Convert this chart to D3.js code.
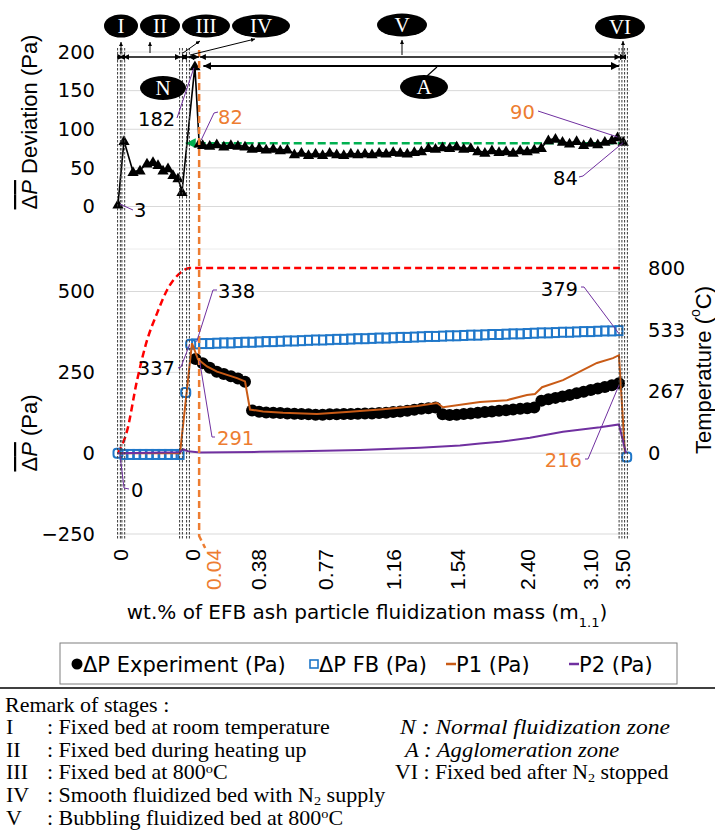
<!DOCTYPE html>
<html>
<head>
<meta charset="utf-8">
<script src="https://cdn.jsdelivr.net/npm/d3@7"></script>
<style>
  body { margin: 0; background: #fff; }
  svg { display: block; }
</style>
</head>
<body>
<div id="chart"></div>
<script>
// ===== Axes / categories =====
const xTickPos = [0.28, 10.49, 13.46, 19.84, 29.34, 38.97, 48.04, 57.96, 66.89, 71.43];
const xTickLabels = ["0", "0", "0.04", "0.38", "0.77", "1.16", "1.54", "2.40", "3.10", "3.50"];
const devTicks = [0, 50, 100, 150, 200];
const pTicks = [-250, 0, 250, 500];
const tempTicks = [0, 267, 533, 800];

// stage boundaries (sample positions) and N2 start
const stageBounds = [0.14, 0.75, 8.93, 9.92, 71.22, 72.0];
const n2Start = 11.5;

// ===== Top panel : ΔP deviation =====
const devEarlyPos = [0, 0.85, 2.13, 3.12, 4.11, 4.96, 5.67, 6.38, 7.09, 7.79, 8.5, 9.07, 10.9, 11.5];
const devEarlyVal = [3, 85, 45, 47, 56, 58, 54, 47, 50, 41, 37, 19, 182, 82];
const devMainStart = 12;
const devMainVal = [
  80, 79, 81, 78, 80, 79, 78,
  75, 76, 74, 75, 73, 74,
  68, 70, 67, 69, 67, 70, 68, 67, 69, 68,
  69, 68, 70, 69, 71, 70, 69, 71, 72,
  76, 75, 77, 76, 78, 75, 76,
  72, 70, 73, 71, 72, 70, 73, 72, 74, 76,
  86, 88, 84, 82, 85, 80, 83,
  81, 84, 86
];
const devEndPos = [70.8, 71.6];
const devEndVal = [90, 84];
const devMean = 82;

// ===== Bottom panel : ΔP =====
const expStart = 11;
const expVal = [
  291, 278, 264, 252, 245, 238, 231, 221,
  132, 128, 126, 125, 124, 123, 122, 121, 120, 119, 119, 120, 120, 121, 121, 122,
  123, 123, 124, 125, 127, 129, 131, 134, 137, 139, 141,
  120, 118, 119, 121, 123, 125, 127, 129, 131, 133, 135, 137, 139, 141,
  162, 167, 171, 175, 180, 185, 190, 195, 200, 205, 210, 216
];

const fbEarlyPos = [0, 0.85, 1.75, 2.65, 3.55, 4.45, 5.35, 6.25, 7.15, 8.05, 8.8, 9.6, 10.3];
const fbEarlyVal = [0, -4, -4, -4, -4, -4, -4, -4, -4, -4, -4, 188, 337];
const fbMainStart = 11;
const fbMainVal = [
  338, 339, 339, 340, 341, 341, 342, 343, 343, 344,
  345, 345, 346, 347, 347, 348, 349, 350, 350, 351,
  352, 352, 353, 354, 354, 355, 356, 356, 357, 358,
  358, 359, 360, 361, 361, 362, 363, 363, 364, 365,
  365, 366, 367, 367, 368, 369, 369, 370, 371, 372,
  372, 373, 374, 374, 375, 376, 376, 377, 378, 378,
  379
];
const fbEndPos = [72.1];
const fbEndVal = [-12];

const p1Pos = [0, 8.79, 10.49, 11.34, 12.61, 14.03, 15.45, 16.87, 18.0, 18.71, 20.55, 23.38, 28.2, 32.88,
  37.56, 42.38, 45.21, 46.06, 51.3, 55.13, 57.96, 59.1, 60.1, 63.07, 67.88, 70.15, 71.0, 71.85];
const p1Val = [0, 0, 340, 290, 268, 252, 242, 232, 222, 135, 129, 125, 121, 128,
  136, 146, 155, 142, 158, 164, 180, 183, 204, 226, 279, 294, 303, 0];

const p2Pos = [0, 8.79, 9.21, 9.92, 11.62, 20.12, 25.79, 34.3, 42.8, 48.47, 51.3, 54.14, 58.39, 63.07, 68.31, 71.0, 72.0];
const p2Val = [0, 3, 12, 6, 2, 4, 6, 10, 17, 24, 30, 35, 48, 66, 80, 89, 0];

const tempPos = [0, 1.28, 2.69, 4.11, 5.53, 6.94, 8.79, 10.2, 71.14];
const tempVal = [0, 96, 313, 487, 604, 704, 778, 800, 800];

// ===== Colours =====
const C = {
  grid: "#d9d9d9",
  blue: "#1f77c9",
  p1: "#c95b16",
  orange: "#ed7d31",
  purple: "#7030a0",
  red: "#ff0000",
  green: "#00b050",
  bound: "#3a3a3a"
};

// ===== SVG =====
const W = 715, H = 839;
const svg = d3.select("#chart").append("svg")
  .attr("width", W).attr("height", H)
  .style("background", "#fff");

const x = d3.scaleLinear().domain([0, 72]).range([118, 626]);
const yDev = d3.scaleLinear().domain([-55, 200]).range([249, 52]);
const yP = d3.scaleLinear().domain([-250, 500]).range([534, 291.5]);
const yT = d3.scaleLinear().domain([0, 800]).range([yP(0), 268]);
const xL = 117, xR = 630;

const sans = "DejaVu Sans";
const sansR = "Liberation Sans";
const serif = "Liberation Serif";

// markers
const defs = svg.append("defs");
function addMarker(id, color) {
  defs.append("marker")
    .attr("id", id)
    .attr("viewBox", "0 0 10 10")
    .attr("refX", 10).attr("refY", 5)
    .attr("markerWidth", 4).attr("markerHeight", 4)
    .attr("orient", "auto-start-reverse")
    .append("path").attr("d", "M0,0L10,5L0,10z").attr("fill", color);
}
addMarker("ah", "#000");
addMarker("ahg", C.green);

// ===== Gridlines =====
const grid = svg.append("g").attr("stroke", C.grid).attr("stroke-width", 1);
devTicks.forEach((v) => grid.append("line").attr("x1", xL).attr("x2", xR).attr("y1", yDev(v)).attr("y2", yDev(v)));
grid.append("line").attr("x1", xL).attr("x2", xR).attr("y1", yDev(-55)).attr("y2", yDev(-55)).attr("stroke", "#ececec");
pTicks.forEach((v) => grid.append("line").attr("x1", xL).attr("x2", xR).attr("y1", yP(v)).attr("y2", yP(v)));

// ===== Axes =====
const styleTicks = (g, fam, size) => {
  g.select(".domain").remove();
  g.selectAll("text").attr("font-family", fam).attr("font-size", size).attr("fill", "#000");
};
svg.append("g").attr("transform", `translate(${xL},0)`)
  .call(d3.axisLeft(yDev).tickValues(devTicks).tickSize(0).tickPadding(22))
  .call((g) => styleTicks(g, sans, 19.5));
svg.append("g").attr("transform", `translate(${xL},0)`)
  .call(d3.axisLeft(yP).tickValues(pTicks).tickSize(0).tickPadding(22))
  .call((g) => styleTicks(g, sans, 19.5));
svg.append("g").attr("transform", `translate(${xR},0)`)
  .call(d3.axisRight(yT).tickValues(tempTicks).tickSize(0).tickPadding(18))
  .call((g) => styleTicks(g, sans, 19.5));

const xAxis = svg.append("g").attr("transform", `translate(0,${yP(-250)})`)
  .call(d3.axisBottom(x).tickValues(xTickPos).tickFormat((d, i) => xTickLabels[i]).tickSize(0))
  .call((g) => styleTicks(g, sansR, 21));
xAxis.selectAll("text")
  .attr("transform", "rotate(-90)")
  .attr("x", -15).attr("y", 0).attr("dy", "0.36em")
  .style("text-anchor", "end")
  .attr("fill", (d, i) => (xTickLabels[i] === "0.04" ? C.orange : "#000"));

// ===== Axis titles =====
const tTop = svg.append("text")
  .attr("transform", "translate(29,122) rotate(-90)")
  .attr("text-anchor", "middle").attr("dominant-baseline", "central")
  .attr("font-family", sansR).attr("font-size", 22);
const ovTop = tTop.append("tspan").style("text-decoration", "overline");
ovTop.append("tspan").text("Δ");
ovTop.append("tspan").attr("font-style", "italic").text("P");
tTop.append("tspan").text(" Deviation (Pa)");

const tBot = svg.append("text")
  .attr("transform", "translate(29,433) rotate(-90)")
  .attr("text-anchor", "middle").attr("dominant-baseline", "central")
  .attr("font-family", sansR).attr("font-size", 22);
const ovBot = tBot.append("tspan").style("text-decoration", "overline");
ovBot.append("tspan").text("Δ");
ovBot.append("tspan").attr("font-style", "italic").text("P");
tBot.append("tspan").text(" (Pa)");

const tTemp = svg.append("text")
  .attr("transform", "translate(703,370) rotate(-90)")
  .attr("text-anchor", "middle").attr("dominant-baseline", "central")
  .attr("font-family", sansR).attr("font-size", 22);
tTemp.append("tspan").text("Temperature (");
tTemp.append("tspan").attr("font-size", 14).attr("baseline-shift", "super").text("o");
tTemp.append("tspan").text("C)");

const tX = svg.append("text")
  .attr("x", 367).attr("y", 619)
  .attr("text-anchor", "middle")
  .attr("font-family", sans).attr("font-size", 20);
tX.append("tspan").text("wt.% of EFB ash particle fluidization mass (m");
tX.append("tspan").attr("font-size", 13).attr("baseline-shift", "sub").text("1.1");
tX.append("tspan").text(")");

// ===== Temperature (red dashed) =====
const tempData = tempPos.map((p, i) => ({ p, v: tempVal[i] }));
svg.append("path")
  .datum(tempData)
  .attr("fill", "none").attr("stroke", C.red).attr("stroke-width", 2.5)
  .attr("stroke-dasharray", "7,4")
  .attr("d", d3.line().x((d) => x(d.p)).y((d) => yT(d.v)).curve(d3.curveMonotoneX));

// ===== ΔP experiment (black circles) =====
const expData = expVal.map((v, i) => ({ p: expStart + i, v }));
svg.append("g").selectAll("circle")
  .data(expData).enter().append("circle")
  .attr("cx", (d) => x(d.p)).attr("cy", (d) => yP(d.v))
  .attr("r", 6).attr("fill", "#000");

// ===== ΔP FB (blue squares) =====
const fbData = fbEarlyPos.map((p, i) => ({ p, v: fbEarlyVal[i], round: i === 0 || i >= fbEarlyPos.length - 2 }))
  .concat(fbMainVal.map((v, i) => ({ p: fbMainStart + i, v, round: false })))
  .concat(fbEndPos.map((p, i) => ({ p, v: fbEndVal[i], round: true })));
svg.append("g").selectAll("rect")
  .data(fbData).enter().append("rect")
  .attr("x", (d) => x(d.p) - (d.round ? 4.5 : 3.5))
  .attr("y", (d) => yP(d.v) - 4.5)
  .attr("width", (d) => (d.round ? 9 : 7))
  .attr("height", 9)
  .attr("rx", (d) => (d.round ? 3 : 0))
  .attr("fill", "#fff").attr("fill-opacity", 0)
  .attr("stroke", C.blue).attr("stroke-width", 2);

// ===== P1 / P2 lines =====
const lineP = d3.line().x((d) => x(d.p)).y((d) => yP(d.v));
svg.append("path")
  .datum(p1Pos.map((p, i) => ({ p, v: p1Val[i] })))
  .attr("fill", "none").attr("stroke", C.p1).attr("stroke-width", 2).attr("d", lineP);
svg.append("path")
  .datum(p2Pos.map((p, i) => ({ p, v: p2Val[i] })))
  .attr("fill", "none").attr("stroke", C.purple).attr("stroke-width", 2).attr("d", lineP);

// ===== Top panel series =====
const devData = devEarlyPos.map((p, i) => ({ p, v: devEarlyVal[i] }))
  .concat(devMainVal.map((v, i) => ({ p: devMainStart + i, v })))
  .concat(devEndPos.map((p, i) => ({ p, v: devEndVal[i] })));

svg.append("line")
  .attr("x1", x(9.6)).attr("x2", x(72.3))
  .attr("y1", yDev(devMean)).attr("y2", yDev(devMean))
  .attr("stroke", C.green).attr("stroke-width", 2.5)
  .attr("stroke-dasharray", "8,4")
  .attr("marker-start", "url(#ahg)");

svg.append("path")
  .datum(devData)
  .attr("fill", "none").attr("stroke", "#000").attr("stroke-width", 1.6)
  .attr("d", d3.line().x((d) => x(d.p)).y((d) => yDev(d.v)));
svg.append("g").selectAll("path")
  .data(devData).enter().append("path")
  .attr("transform", (d) => `translate(${x(d.p)},${yDev(d.v) + 1})`)
  .attr("d", d3.symbol(d3.symbolTriangle, 55))
  .attr("fill", "#000");

// ===== Stage boundaries =====
const bnd = svg.append("g").attr("stroke", C.bound).attr("stroke-width", 1).attr("stroke-dasharray", "2.5,1.5");
stageBounds.forEach((b) => {
  [-1.4, 1.4].forEach((o) => {
    bnd.append("line").attr("x1", x(b) + o).attr("x2", x(b) + o).attr("y1", 48).attr("y2", 540);
  });
});

svg.append("path")
  .attr("d", `M${x(n2Start)},50 L${x(n2Start)},${yP(-250) + 2} L${x(n2Start) + 6},548`)
  .attr("fill", "none").attr("stroke", C.orange).attr("stroke-width", 2.5)
  .attr("stroke-dasharray", "7,4");

// ===== Stage arrows =====
const stageSpans = [[0.14, 0.75], [0.75, 8.93], [8.93, 9.92], [9.92, n2Start], [n2Start + 0.1, 71.22], [71.22, 72.0]];
const arr = svg.append("g").attr("stroke", "#000").attr("stroke-width", 1.5);
stageSpans.forEach(([a, b]) => {
  arr.append("line").attr("x1", x(a)).attr("x2", x(b)).attr("y1", 57).attr("y2", 57)
    .attr("marker-start", "url(#ah)").attr("marker-end", "url(#ah)");
});
arr.append("line").attr("x1", x(12.1)).attr("x2", x(71.0)).attr("y1", 66).attr("y2", 66)
  .attr("stroke-width", 2)
  .attr("marker-start", "url(#ah)").attr("marker-end", "url(#ah)");

// pointers from the stage callouts
const pointers = [
  [121, 53, 121, 42], [150, 53, 150, 42], [183, 53, 200, 41], [190, 55, 255, 39],
  [402, 55, 402, 40], [623, 55, 623, 41]
];
pointers.forEach(([x1, y1, x2, y2]) => {
  svg.append("line").attr("x1", x1).attr("y1", y1).attr("x2", x2).attr("y2", y2)
    .attr("stroke", "#000").attr("stroke-width", 1).attr("marker-end", "url(#ah)");
});
svg.append("line").attr("x1", 427).attr("y1", 76).attr("x2", 437).attr("y2", 67)
  .attr("stroke", "#000").attr("stroke-width", 1.2);

// ellipse callouts
const callouts = [
  { t: "I", cx: 121, cy: 26, rx: 17, ry: 11.5 },
  { t: "II", cx: 160, cy: 26, rx: 20, ry: 11.5 },
  { t: "III", cx: 206, cy: 26, rx: 24, ry: 11.5 },
  { t: "IV", cx: 261, cy: 26, rx: 29, ry: 11.5 },
  { t: "V", cx: 402, cy: 25, rx: 25, ry: 11.5 },
  { t: "VI", cx: 620, cy: 27, rx: 25, ry: 12 },
  { t: "N", cx: 163, cy: 88, rx: 23, ry: 12 },
  { t: "A", cx: 424, cy: 87, rx: 24, ry: 12 }
];
const co = svg.append("g").selectAll("g").data(callouts).enter().append("g");
co.append("ellipse")
  .attr("cx", (d) => d.cx).attr("cy", (d) => d.cy)
  .attr("rx", (d) => d.rx).attr("ry", (d) => d.ry)
  .attr("fill", "#000");
co.append("text")
  .attr("x", (d) => d.cx).attr("y", (d) => d.cy + 7)
  .attr("text-anchor", "middle")
  .attr("font-family", serif).attr("font-size", 21)
  .attr("fill", "#fff")
  .text((d) => d.t);

// ===== Value labels with leaders =====
const labels = [
  { t: "3", c: "#000", tx: 134, ty: 217, a: "start", pts: [[x(0) + 2, yDev(3)], [133, 210]] },
  { t: "182", c: "#000", tx: 138, ty: 126, a: "start", pts: [[177, 118], [x(10.9) - 1, yDev(182) + 2]] },
  { t: "82", c: C.orange, tx: 218, ty: 124, a: "start", pts: [[218, 112], [214, 113], [x(11.5) + 2, yDev(82) - 3]] },
  { t: "90", c: C.orange, tx: 510, ty: 119, a: "start", pts: [[538, 111], [x(70.8), yDev(90)]] },
  { t: "84", c: "#000", tx: 553, ty: 185, a: "start", pts: [[579, 177], [583, 176], [x(71.6), yDev(84) + 1]] },
  { t: "338", c: "#000", tx: 218, ty: 298, a: "start", pts: [[217, 290], [213, 290], [x(11) + 1, yP(338) - 2]] },
  { t: "337", c: "#000", tx: 175, ty: 375, a: "end", pts: [[178, 368], [181, 367], [x(10.3) - 1, yP(337)]] },
  { t: "291", c: C.orange, tx: 217, ty: 445, a: "start", pts: [[215, 437], [212, 437], [x(11) + 4, yP(291) + 2]] },
  { t: "379", c: "#000", tx: 578, ty: 296, a: "end", pts: [[581, 287], [584, 287], [x(71), yP(379) + 3]] },
  { t: "216", c: C.orange, tx: 582, ty: 467, a: "end", pts: [[585, 459], [588, 459], [x(71), yP(216) + 2]] },
  { t: "0", c: "#000", tx: 131, ty: 497, a: "start", pts: [[x(0) + 2, yP(0) + 2], [124, 488], [129, 489]] }
];
labels.forEach((l) => {
  svg.append("path")
    .attr("d", d3.line()(l.pts))
    .attr("fill", "none").attr("stroke", C.purple).attr("stroke-width", 1);
  svg.append("text")
    .attr("x", l.tx).attr("y", l.ty)
    .attr("text-anchor", l.a)
    .attr("font-family", sans).attr("font-size", 19.5)
    .attr("fill", l.c)
    .text(l.t);
});

// ===== Legend =====
const lg = svg.append("g");
lg.append("rect").attr("x", 60).attr("y", 643).attr("width", 617).attr("height", 41)
  .attr("fill", "#fff").attr("stroke", "#7f7f7f").attr("stroke-width", 1);
const ly = 664;
lg.append("circle").attr("cx", 77).attr("cy", ly).attr("r", 5.5).attr("fill", "#000");
lg.append("rect").attr("x", 310).attr("y", ly - 4).attr("width", 8).attr("height", 8)
  .attr("fill", "none").attr("stroke", C.blue).attr("stroke-width", 1.6);
lg.append("line").attr("x1", 446).attr("x2", 456).attr("y1", ly).attr("y2", ly)
  .attr("stroke", C.p1).attr("stroke-width", 2.5);
lg.append("line").attr("x1", 569).attr("x2", 579).attr("y1", ly).attr("y2", ly)
  .attr("stroke", C.purple).attr("stroke-width", 2.5);
[[83, "ΔP Experiment (Pa)"], [319, "ΔP FB (Pa)"], [456, "P1 (Pa)"], [579, "P2 (Pa)"]].forEach(([lx, t]) => {
  lg.append("text").attr("x", lx).attr("y", ly + 7.5)
    .attr("font-family", sans).attr("font-size", 21).attr("fill", "#000").text(t);
});

svg.append("line").attr("x1", 0).attr("x2", W).attr("y1", 688).attr("y2", 688)
  .attr("stroke", "#000").attr("stroke-width", 1.5);

// ===== Remarks =====
const rm = svg.append("g").attr("font-family", serif).attr("font-size", 20).attr("fill", "#000");
const placeText = (px, py, sx) => rm.append("text").attr("transform", `translate(${px},${py}) scale(${sx},1)`);

placeText(5, 712, 1.1).text("Remark of stages :");

const remarkRows = [
  { n: "I", parts: [[": Fixed bed at room temperature"]] },
  { n: "II", parts: [[": Fixed bed during heating up"]] },
  { n: "III", parts: [[": Fixed bed at 800"], ["o", "sup"], ["C"]] },
  { n: "IV", parts: [[": Smooth fluidized bed with N"], ["2", "sub"], [" supply"]] },
  { n: "V", parts: [[": Bubbling fluidized bed at 800"], ["o", "sup"], ["C"]] }
];
function addParts(txt, parts) {
  parts.forEach(([s, kind]) => {
    const sp = txt.append("tspan").text(s);
    if (kind === "sup") sp.attr("font-size", 13).attr("baseline-shift", 7);
    if (kind === "sub") sp.attr("font-size", 13).attr("baseline-shift", -3);
  });
}
remarkRows.forEach((r, i) => {
  const yy = 734 + i * 22.7;
  placeText(6, yy, 1.1).text(r.n);
  addParts(placeText(47, yy, 1.1), r.parts);
});

const rightRows = [
  { n: "N", x: 400, sx: 1.18, italic: true, parts: [[": Normal fluidization zone"]] },
  { n: "A", x: 405, sx: 1.13, italic: true, parts: [[": Agglomeration zone"]] },
  { n: "VI", x: 395, sx: 1.09, italic: false, parts: [[": Fixed bed after N"], ["2", "sub"], [" stopped"]] }
];
rightRows.forEach((r, i) => {
  const yy = 734 + i * 22.7;
  const t = placeText(r.x, yy, r.sx).attr("font-style", r.italic ? "italic" : "normal");
  t.append("tspan").text(r.n + " ");
  addParts(t, r.parts);
});
</script>
</body>
</html>
